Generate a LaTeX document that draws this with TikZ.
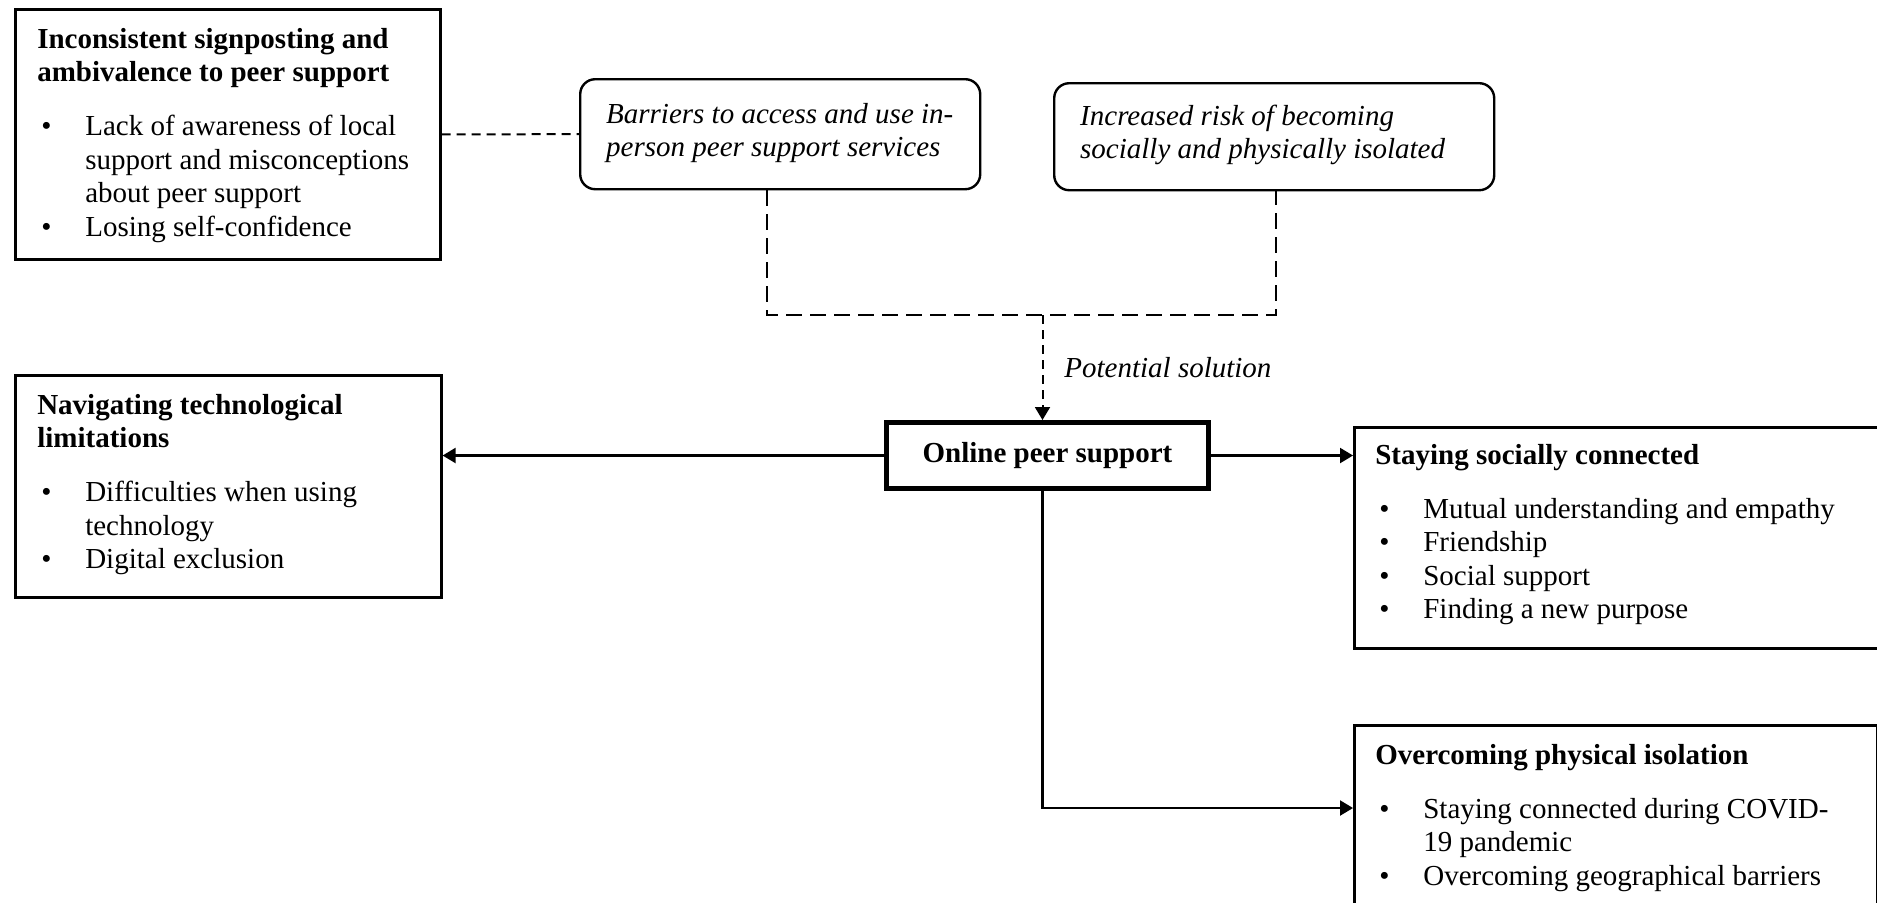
\documentclass[tikz,border=0pt]{standalone}
\usepackage{fontspec}
\setmainfont{Liberation Serif}
\usetikzlibrary{arrows.meta}

% body size used throughout the figure
\newcommand{\fs}{\fontsize{14.5pt}{16.75pt}\selectfont}
% fixed-size text body: width, height, first-baseline drop, contents
\newcommand{\boxbody}[4]{%
  \parbox[t][#2][t]{#1}{\fs\raggedright\rule{0pt}{#3}#4}}
\newcommand{\heading}[1]{\textbf{#1}\par\vspace{10.25pt}}
% bulleted item with hanging indent (use \newline inside, not \\)
\newcommand{\bul}{\par\hangindent=24pt\hangafter=1\noindent
  \makebox[24pt][l]{\hspace{2pt}•}}

\tikzset{
  theme/.style={draw, line width=1.3pt, inner xsep=11pt, inner ysep=0pt,
    anchor=north west},
  theme2/.style={theme, inner xsep=10.5pt},
  issue/.style={draw, line width=1.2pt, rounded corners=7.5pt,
    inner xsep=13pt, inner ysep=0pt, anchor=north west, font=\itshape},
  hub/.style={draw, line width=2.5pt, minimum width=161pt,
    minimum height=33pt, inner sep=0pt, font=\fs\bfseries},
  link/.style={line width=1.1pt},
  tip/.style={-{Triangle[width=7.5pt,length=6.5pt]}},
  shortdash/.style={line width=1pt, dash pattern=on 4.5pt off 3pt},
  longdash/.style={line width=1.3pt, dash pattern=on 8pt off 4pt}
}

\begin{document}
\begin{tikzpicture}[x=0.5pt, y=-0.5pt]
\useasboundingbox (0,0) rectangle (1877,902);

% themes on the left
\node[theme] (sign) at (14,8) {\boxbody{190.5pt}{125pt}{19.5pt}{%
  \heading{Inconsistent signposting and\\ambivalence to peer support}%
  \bul Lack of awareness of local\newline support and misconceptions\newline about peer support
  \bul Losing self-confidence}};

\node[theme] (tech) at (14,374) {\boxbody{191pt}{111pt}{19.5pt}{%
  \heading{Navigating technological\\limitations}%
  \bul Difficulties when using\newline technology
  \bul Digital exclusion}};

% barriers that make online support relevant
\node[issue] (barr) at (579,78) {\boxbody{174pt}{55pt}{22pt}{\itshape
  Barriers to access and use in-\\person peer support services}};
\node[issue] (risk) at (1053,82) {\boxbody{194pt}{53.5pt}{21pt}{\itshape
  Increased risk of becoming\\socially and physically isolated}};

% central node
\node[hub] (online) at (1047.5,455.5) {Online peer support};

% themes on the right
\node[theme2] (social) at (1353,426) {\boxbody{241.5pt}{110.5pt}{18.5pt}{%
  \heading{Staying socially connected}%
  \bul Mutual understanding and empathy
  \bul Friendship
  \bul Social support
  \bul Finding a new purpose}};

\node[theme2] (phys) at (1353,724) {\boxbody{240.5pt}{93pt}{19.5pt}{%
  \heading{Overcoming physical isolation}%
  \bul Staying connected during COVID-\newline 19 pandemic
  \bul Overcoming geographical barriers}};

% dashed links
\draw[shortdash] (sign.east) -- (barr.west);

\coordinate (bl) at (767,315);
\coordinate (br) at (1276,315);
\coordinate (mid) at (1042.5,315);
\draw[longdash] (bl |- barr.south) -- (bl) -- (br) -- (br |- risk.south);
\draw[shortdash, tip] (mid) -- (mid |- online.north);
\node[anchor=base west, inner sep=0pt, font=\fs\itshape] (potential)
  at (1064,377) {Potential solution};

% solid arrows out of the central node
\draw[link, tip] (online.west) -- (online.west -| tech.east);
\draw[link, tip] (online.east) -- (online.east -| social.west);
\coordinate (turn) at (1042.5,808);
\draw[link, tip] (turn |- online.south) -- (turn) -- (turn -| phys.west);
\end{tikzpicture}
\end{document}
